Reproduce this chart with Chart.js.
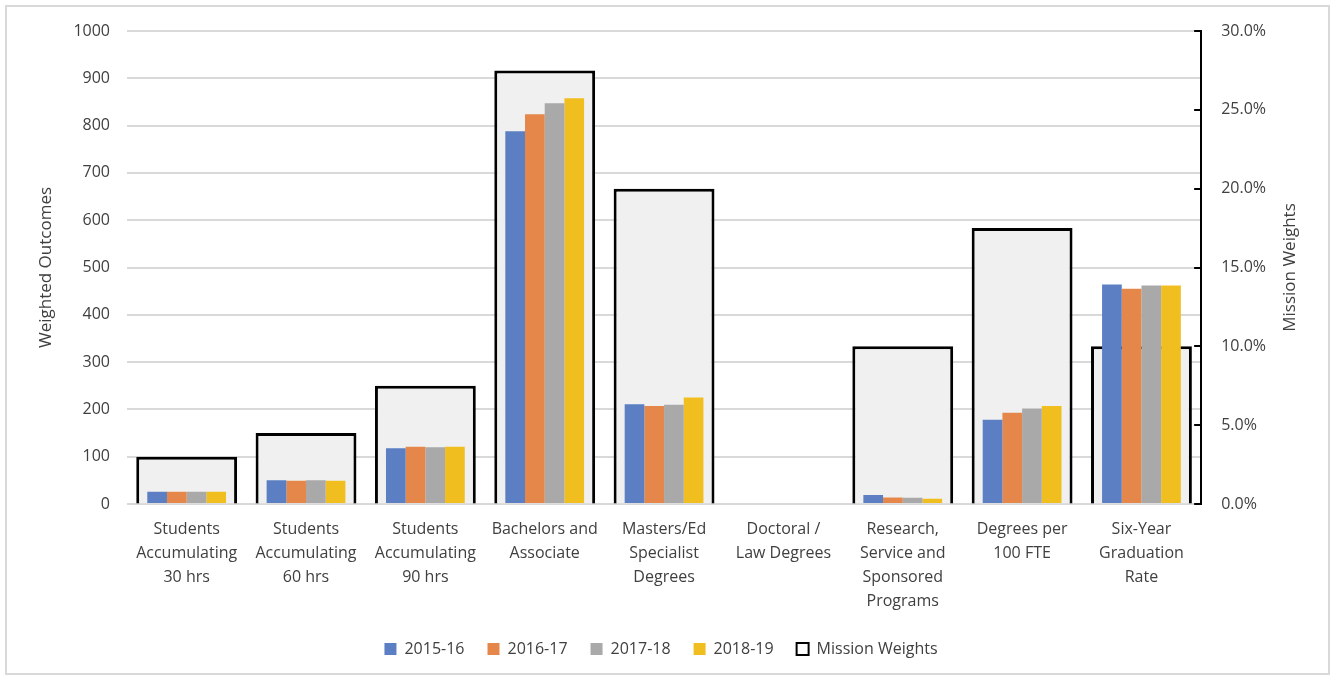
<!DOCTYPE html>
<html>
<head>
<meta charset="utf-8">
<script src="https://cdn.jsdelivr.net/npm/chart.js@4"></script>
<style>
  html, body { margin: 0; padding: 0; background: #fff; }
  #wrap { position: relative; width: 1332px; height: 677px; }
  #frame { position: absolute; left: 5px; top: 5px; width: 1321px; height: 666px; border: 2px solid #d9d9d9; pointer-events: none; }
  canvas { position: absolute; left: 0; top: 0; }
</style>
</head>
<body>
<div id="wrap">
  <canvas id="chart" width="1332" height="677"></canvas>
  <div id="frame"></div>
</div>
<script>
const categories = [
    ["Students", "Accumulating", "30 hrs"],
    ["Students", "Accumulating", "60 hrs"],
    ["Students", "Accumulating", "90 hrs"],
    ["Bachelors and", "Associate"],
    ["Masters/Ed", "Specialist", "Degrees"],
    ["Doctoral /", "Law Degrees"],
    ["Research,", "Service and", "Sponsored", "Programs"],
    ["Degrees per", "100 FTE"],
    ["Six-Year", "Graduation", "Rate"]
];

const y2015 = [26, 50, 118, 788, 211, 0, 19, 178, 464];
const y2016 = [26, 49, 121, 824, 207, 0, 14, 193, 455];
const y2017 = [26, 50, 120, 847, 210, 0, 13, 202, 462];
const y2018 = [26, 49, 121, 858, 225, 0, 11, 207, 462];
const missionWeights = [3.0, 4.5, 7.5, 27.5, 20.0, 0, 10.0, 17.5, 10.0];

const leftTicks = [0, 100, 200, 300, 400, 500, 600, 700, 800, 900, 1000];
const rightTicks = [0, 5, 10, 15, 20, 25, 30];

const fontFamily = "'Open Sans', 'Noto Sans', sans-serif";
const textColor = '#404040';

function seriesBar(label, data, color) {
    return {
        label: label,
        data: data,
        backgroundColor: color,
        borderWidth: 0,
        yAxisID: 'y',
        categoryPercentage: 0.66,
        barPercentage: 1.0,
        order: 0
    };
}

// right axis: title reading bottom-to-top, and tick marks pointing into the plot
const rightAxisExtras = {
    id: 'rightAxisExtras',
    afterDraw(chart) {
        const s = chart.scales.y1;
        const c = chart.ctx;
        c.save();
        c.strokeStyle = '#000000';
        c.lineWidth = 2;
        rightTicks.forEach(function (v) {
            const y = Math.round(s.getPixelForValue(v));
            c.beginPath();
            c.moveTo(s.left - 7, y);
            c.lineTo(s.left, y);
            c.stroke();
        });
        c.translate(1290, (s.top + s.bottom) / 2);
        c.rotate(-Math.PI / 2);
        c.fillStyle = textColor;
        c.font = "17px " + fontFamily;
        c.textAlign = 'center';
        c.textBaseline = 'middle';
        c.fillText('Mission Weights', 0, 0);
        c.restore();
    }
};

const ctx = document.getElementById('chart').getContext('2d');
new Chart(ctx, {
    type: 'bar',
    data: {
        labels: categories,
        datasets: [
            seriesBar('2015-16', y2015, '#5b7fc2'),
            seriesBar('2016-17', y2016, '#e5874a'),
            seriesBar('2017-18', y2017, '#a9a9a9'),
            seriesBar('2018-19', y2018, '#f1be1f'),
            {
                label: 'Mission Weights',
                data: missionWeights,
                backgroundColor: '#f0f0f0',
                borderColor: '#000000',
                borderWidth: 3,
                yAxisID: 'y1',
                grouped: false,
                categoryPercentage: 1.0,
                barPercentage: 0.845,
                order: 1
            }
        ]
    },
    plugins: [rightAxisExtras],
    options: {
        responsive: false,
        animation: false,
        events: [],
        layout: { padding: { left: 36, right: 46, top: 31, bottom: 10 } },
        plugins: {
            tooltip: { enabled: false },
            legend: {
                position: 'bottom',
                labels: {
                    boxWidth: 12,
                    boxHeight: 12,
                    padding: 23,
                    color: textColor,
                    font: { family: fontFamily, size: 16 },
                    generateLabels: function (chart) {
                        const items = Chart.defaults.plugins.legend.labels.generateLabels(chart);
                        items.forEach(function (it) {
                            if (it.text === 'Mission Weights') {
                                it.fillStyle = '#ffffff';
                                it.strokeStyle = '#000000';
                                it.lineWidth = 2;
                            } else {
                                it.lineWidth = 0;
                            }
                        });
                        return items;
                    }
                }
            }
        },
        scales: {
            x: {
                type: 'category',
                offset: true,
                grid: { display: false },
                border: { display: false },
                ticks: {
                    color: textColor,
                    font: { family: fontFamily, size: 16, lineHeight: 1.5 },
                    maxRotation: 0,
                    autoSkip: false,
                    padding: 5
                }
            },
            y: {
                position: 'left',
                min: 0,
                max: 1000,
                afterBuildTicks: function (axis) {
                    axis.ticks = leftTicks.map(function (v) { return { value: v }; });
                },
                grid: { color: '#d9d9d9', lineWidth: 2, drawTicks: false },
                border: { display: false },
                ticks: {
                    color: textColor,
                    font: { family: fontFamily, size: 16 },
                    padding: 17,
                    callback: function (v) { return String(v); }
                },
                title: {
                    display: true,
                    text: 'Weighted Outcomes',
                    color: textColor,
                    font: { family: fontFamily, size: 17 },
                    padding: { top: 0, bottom: 0 }
                }
            },
            y1: {
                position: 'right',
                min: 0,
                max: 30,
                afterBuildTicks: function (axis) {
                    axis.ticks = rightTicks.map(function (v) { return { value: v }; });
                },
                grid: { drawOnChartArea: false, drawTicks: false },
                border: { display: true, color: '#000000', width: 2 },
                ticks: {
                    color: textColor,
                    font: { family: fontFamily, size: 16 },
                    padding: 20,
                    callback: function (v) { return v.toFixed(1) + '%'; }
                }
            }
        }
    }
});
</script>
</body>
</html>
